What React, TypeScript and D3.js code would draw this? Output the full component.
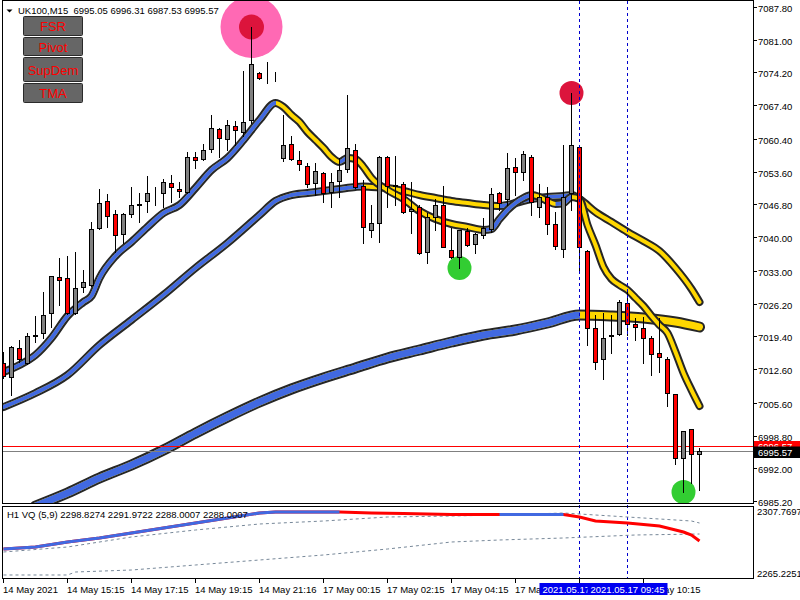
import * as d3 from 'd3'
import { useEffect, useRef } from 'react'

// ---- candles (UK100 M15), bar 0 = 14 May 13:15
const opens = [7013.87, 7010.96, 7016.98, 7013.87, 7019.47, 7020.10, 7024.25, 7031.73, 7031.52, 7024.25, 7029.65, 7030.06, 7041.90, 7047.51, 7044.81, 7040.66, 7044.81, 7046.68, 7047.51, 7049.30, 7049.17, 7051.25, 7050.00, 7049.38, 7056.65, 7056.23, 7058.31, 7062.46, 7060.39, 7063.09, 7061.84, 7064.33, 7074.09, 7072.64, 7072.85, 7056.44, 7059.35, 7056.03, 7054.78, 7051.25, 7053.33, 7049.38, 7051.66, 7054.16, 7058.10, 7050.63, 7041.49, 7042.94, 7056.65, 7050.63, 7051.04, 7045.43, 7046.26, 7036.92, 7044.19, 7046.68, 7037.33, 7035.88, 7041.28, 7038.58, 7040.45, 7041.69, 7049.17, 7047.93, 7054.57, 7053.53, 7056.65, 7046.26, 7048.34, 7042.73, 7037.54, 7049.17, 7058.72, 7037.13, 7021.13, 7014.70, 7019.47, 7019.89, 7026.33, 7021.97, 7021.13, 7019.06, 7015.94, 7014.70, 7007.43, 6994.14, 7000.16, 6995.05]
const highs = [7016.15, 7017.40, 7018.64, 7020.10, 7023.63, 7028.61, 7031.93, 7035.67, 7036.09, 7036.92, 7033.18, 7043.15, 7050.00, 7048.96, 7045.64, 7045.02, 7050.42, 7049.17, 7052.70, 7050.42, 7052.08, 7052.91, 7051.46, 7057.69, 7057.69, 7059.35, 7065.37, 7062.67, 7064.33, 7064.12, 7074.51, 7083.65, 7074.30, 7076.38, 7074.30, 7065.37, 7061.01, 7057.89, 7055.40, 7055.40, 7053.53, 7053.33, 7056.44, 7069.52, 7059.35, 7051.87, 7046.68, 7056.86, 7056.86, 7056.86, 7051.46, 7051.46, 7046.68, 7045.02, 7047.93, 7050.63, 7041.90, 7041.49, 7041.90, 7040.86, 7043.98, 7050.21, 7049.38, 7057.48, 7056.44, 7057.89, 7057.06, 7051.04, 7050.42, 7045.23, 7059.14, 7069.94, 7058.72, 7037.33, 7023.83, 7024.25, 7023.83, 7026.95, 7029.23, 7023.21, 7023.42, 7019.47, 7023.21, 7015.11, 7007.43, 6999.74, 7000.16, 6996.31]
const lows = [7010.75, 7007.22, 7014.08, 7013.66, 7018.23, 7019.06, 7021.34, 7025.91, 7024.04, 7024.04, 7028.61, 7029.86, 7041.69, 7042.11, 7036.92, 7038.79, 7044.19, 7043.15, 7045.23, 7046.68, 7046.26, 7047.30, 7048.34, 7049.17, 7054.36, 7056.03, 7057.69, 7056.65, 7058.10, 7059.14, 7061.01, 7063.71, 7072.85, 7072.02, 7072.43, 7055.82, 7056.03, 7053.95, 7050.42, 7048.76, 7047.30, 7046.26, 7048.34, 7053.53, 7050.21, 7038.79, 7040.03, 7039.00, 7046.26, 7046.68, 7045.02, 7040.86, 7036.50, 7034.63, 7041.49, 7037.96, 7035.67, 7033.60, 7038.16, 7036.71, 7039.83, 7041.07, 7045.64, 7046.68, 7048.76, 7051.87, 7044.60, 7044.19, 7040.66, 7037.54, 7035.88, 7045.64, 7032.77, 7017.60, 7012.62, 7010.54, 7015.94, 7019.68, 7019.68, 7018.64, 7013.87, 7011.38, 7012.00, 7004.94, 6992.89, 6987.07, 6988.94, 6987.53]
const closes = [7011.17, 7017.19, 7014.70, 7019.47, 7019.68, 7023.83, 7031.93, 7031.10, 7024.25, 7029.44, 7030.69, 7041.69, 7047.09, 7044.39, 7040.45, 7044.81, 7046.68, 7046.89, 7049.17, 7049.38, 7051.46, 7050.42, 7049.59, 7056.65, 7056.03, 7058.10, 7062.67, 7060.59, 7063.29, 7062.25, 7063.92, 7075.96, 7073.05, 7072.55, 7072.75, 7059.14, 7056.23, 7055.19, 7051.04, 7053.74, 7049.17, 7051.46, 7053.95, 7058.52, 7050.42, 7042.11, 7042.94, 7056.65, 7050.63, 7050.83, 7045.23, 7045.85, 7036.71, 7044.19, 7046.68, 7037.96, 7035.88, 7041.49, 7038.37, 7040.66, 7041.90, 7048.96, 7047.09, 7054.36, 7053.53, 7057.27, 7047.30, 7048.34, 7042.73, 7038.16, 7048.34, 7059.14, 7037.96, 7021.13, 7014.08, 7019.06, 7019.60, 7026.53, 7021.97, 7021.34, 7019.06, 7015.74, 7015.11, 7007.64, 6994.14, 6999.74, 6994.97, 6995.57]

// ---- TMA lines (bar index, price)
const fastBars = [0, 2, 4, 6, 8, 10, 11, 12, 14, 16, 18, 20, 22, 24, 26, 28, 30, 32, 34, 35, 36, 37, 38, 39, 40, 41, 42, 43, 44, 45, 46, 48, 50, 52, 54, 56, 58, 60, 61, 62, 63, 64, 65, 66, 67, 68, 69, 70, 71, 72, 73, 74, 75, 76, 77, 78, 79, 80, 81, 82, 83, 84, 85, 86, 87]
const fastVals = [7011.99, 7013.45, 7015.52, 7019.05, 7023.62, 7026.53, 7027.78, 7031.52, 7036.09, 7038.99, 7042.11, 7045.02, 7046.68, 7050.21, 7053.95, 7056.44, 7060.18, 7064.33, 7067.86, 7067.03, 7065.37, 7063.92, 7061.84, 7060.18, 7058.52, 7056.65, 7055.61, 7056.44, 7056.23, 7054.57, 7052.28, 7049.79, 7047.92, 7045.43, 7043.77, 7042.73, 7042.11, 7041.49, 7041.69, 7043.77, 7045.64, 7047.09, 7048.13, 7048.75, 7048.34, 7047.51, 7046.89, 7047.09, 7048.34, 7047.92, 7042.52, 7038.37, 7033.80, 7031.31, 7030.06, 7029.02, 7027.36, 7025.70, 7023.62, 7021.75, 7020.09, 7016.15, 7011.79, 7008.25, 7004.93]
const medBars = [0, 4, 8, 12, 16, 20, 24, 28, 32, 34, 36, 38, 40, 42, 44, 45, 46, 48, 50, 52, 54, 56, 58, 60, 62, 64, 66, 68, 70, 71, 72, 74, 76, 78, 80, 82, 84, 86, 87]
const medVals = [7004.72, 7007.63, 7011.37, 7017.60, 7022.79, 7027.99, 7033.59, 7038.79, 7044.60, 7047.51, 7048.75, 7049.17, 7049.59, 7050.00, 7050.42, 7050.52, 7050.42, 7050.21, 7049.59, 7048.75, 7048.13, 7047.51, 7047.09, 7046.68, 7046.47, 7047.09, 7047.92, 7048.34, 7048.55, 7048.75, 7047.92, 7045.22, 7043.15, 7041.07, 7039.20, 7037.12, 7033.59, 7029.23, 7026.53]
const slowBars = [4, 8, 12, 16, 20, 24, 28, 32, 36, 40, 44, 48, 52, 56, 60, 64, 68, 72, 76, 80, 84, 87]
const slowVals = [6984.16, 6986.86, 6989.98, 6992.68, 6995.79, 6999.32, 7002.65, 7005.76, 7008.46, 7010.75, 7012.82, 7014.90, 7016.56, 7018.22, 7019.68, 7020.72, 7022.17, 7023.83, 7023.62, 7023.21, 7022.38, 7021.34]

// ---- H1 VQ (5,9) sub window
const vqBars = [0, 4, 8, 12, 16, 20, 24, 28, 32, 34, 42, 46, 50, 56, 62, 70, 72, 74, 76, 78, 80, 82, 84, 85, 86, 87]
const vqVals = [2282.78, 2284.13, 2287.51, 2290.21, 2293.59, 2296.97, 2300.34, 2303.72, 2307.09, 2307.77, 2307.77, 2307.09, 2306.76, 2306.08, 2306.08, 2306.08, 2304.39, 2301.69, 2301.02, 2300.34, 2299.33, 2298.32, 2295.61, 2294.26, 2292.24, 2288.19]
const vqUpRanges = [[0, 42], [62, 70]]
const upperBars = [0, 8, 16, 24, 32, 40, 48, 56, 62, 70, 78, 86, 87]
const upperVals = [2280.76, 2284.13, 2290.89, 2295.61, 2299.67, 2301.69, 2304.39, 2305.07, 2305.74, 2307.09, 2304.39, 2301.69, 2300.34]
const lowerBars = [0, 8, 9, 16, 24, 32, 40, 48, 56, 62, 70, 79, 87]
const lowerVals = [2265.23, 2265.23, 2267.25, 2268.60, 2271.98, 2275.36, 2278.73, 2282.78, 2287.51, 2288.86, 2290.21, 2292.24, 2292.91]

// ---- axes
const priceTicks = [7087.8, 7081.0, 7074.2, 7067.4, 7060.4, 7053.6, 7046.8, 7040.0, 7033.0, 7026.2, 7019.4, 7012.6, 7005.6, 6998.8, 6992.0, 6985.2]
const timeTickBars = [0, 8, 16, 24, 32, 40, 48, 56, 64, 72, 80]
const timeTickLabels = ['14 May 2021', '14 May 15:15', '14 May 17:15', '14 May 19:15', '14 May 21:16', '17 May 00:15', '17 May 02:15', '17 May 04:15', '17 May 06:15', '17 May 08:15', '17 May 10:15']
const markerBars = [72, 78]
const markerLabels = ['2021.05.17 08:15', '2021.05.17 09:45']
const bid = 6995.57
const ask = 6996.57
const buttons = ['FSR', 'Pivot', 'SupDem', 'TMA']

const FONT = '"Liberation Sans", Arial, sans-serif'
const BLUE = '#4169e1'
const GOLD = '#ffd700'
const OUTLINE = '#262626'

const draw = (svgEl: SVGSVGElement) => {
  const svg = d3.select(svgEl)
  svg.selectAll('*').remove()
  const defs = svg.append('defs')

  const x = d3.scaleLinear().domain([0, 87]).range([3.5, 699.5])
  const y = d3.scaleLinear().domain([6985.2, 7087.8]).range([501, 7])
  const yv = d3.scaleLinear().domain([2265.2251, 2307.7697]).range([575, 512])

  svg.append('rect').attr('width', 800).attr('height', 600).attr('fill', '#fff')

  defs.append('clipPath').attr('id', 'main-clip')
    .append('rect').attr('x', 3).attr('y', 1).attr('width', 750).attr('height', 502)
  defs.append('clipPath').attr('id', 'sub-clip')
    .append('rect').attr('x', 3).attr('y', 507).attr('width', 750).attr('height', 71)

  const main = svg.append('g').attr('clip-path', 'url(#main-clip)')

  // colored (blue up / gold down) line with dark outline
  const drawMA = (bars: number[], vals: number[], outerW: number, innerW: number, id: string) => {
    const pts: [number, number][] = bars.map((b, i) => [x(b), y(vals[i])])
    const d = d3.line().curve(d3.curveMonotoneX)(pts)
    main.append('path').attr('d', d).attr('fill', 'none').attr('stroke', OUTLINE)
      .attr('stroke-width', outerW).attr('stroke-linecap', 'round').attr('stroke-linejoin', 'round')
    main.append('path').attr('d', d).attr('fill', 'none').attr('stroke', GOLD)
      .attr('stroke-width', innerW).attr('stroke-linecap', 'round').attr('stroke-linejoin', 'round')
    const clip = defs.append('clipPath').attr('id', id)
    for (let i = 0; i < pts.length - 1; i++) {
      if (vals[i + 1] > vals[i]) {
        const x0 = i === 0 ? pts[i][0] - 10 : pts[i][0]
        const x1 = i === pts.length - 2 ? pts[i + 1][0] + 10 : pts[i + 1][0] + 0.5
        clip.append('rect').attr('x', x0).attr('y', 0).attr('width', x1 - x0).attr('height', 600)
      }
    }
    main.append('g').attr('clip-path', `url(#${id})`)
      .append('path').attr('d', d).attr('fill', 'none').attr('stroke', BLUE)
      .attr('stroke-width', innerW).attr('stroke-linecap', 'round').attr('stroke-linejoin', 'round')
  }

  drawMA(slowBars, slowVals, 11, 7, 'slow-up')
  drawMA(medBars, medVals, 8, 4, 'med-up')
  drawMA(fastBars, fastVals, 8, 4, 'fast-up')

  // signal dots
  main.append('circle').attr('cx', x(31)).attr('cy', y(highs[31])).attr('r', 31).attr('fill', '#ff69b4')
  main.append('circle').attr('cx', x(31)).attr('cy', y(highs[31])).attr('r', 12.5).attr('fill', '#dc143c')
  main.append('circle').attr('cx', x(71)).attr('cy', y(highs[71])).attr('r', 12).attr('fill', '#dc143c')
  main.append('circle').attr('cx', x(57)).attr('cy', y(lows[57])).attr('r', 12).attr('fill', '#32cd32')
  main.append('circle').attr('cx', x(85)).attr('cy', y(lows[85])).attr('r', 12).attr('fill', '#32cd32')

  // bid / ask lines
  main.append('line').attr('x1', 3).attr('x2', 753).attr('y1', Math.round(y(ask)) + 0.5).attr('y2', Math.round(y(ask)) + 0.5).attr('stroke', '#ff0000')
  main.append('line').attr('x1', 3).attr('x2', 753).attr('y1', Math.round(y(bid)) + 0.5).attr('y2', Math.round(y(bid)) + 0.5).attr('stroke', '#808080')

  // vertical dashed markers across both windows
  markerBars.forEach(b => {
    svg.append('line').attr('x1', x(b)).attr('x2', x(b)).attr('y1', 1).attr('y2', 578)
      .attr('stroke', '#0000cd').attr('stroke-dasharray', '3,3')
  })

  // candles
  const cg = main.append('g')
  opens.forEach((o, i) => {
    const c = closes[i]
    const cx = x(i)
    cg.append('line').attr('x1', cx).attr('x2', cx)
      .attr('y1', Math.round(y(highs[i]))).attr('y2', Math.round(y(lows[i])) + 1).attr('stroke', '#000')
    const top = Math.round(y(Math.max(o, c))) + 0.5
    const bot = Math.round(y(Math.min(o, c))) + 0.5
    cg.append('rect').attr('x', cx - 2).attr('y', top).attr('width', 4).attr('height', Math.max(bot - top, 0))
      .attr('fill', c >= o ? '#808080' : '#ff0000').attr('stroke', '#000')
  })

  // header + buttons
  svg.append('path').attr('d', 'M6.5,9.5 L12.5,9.5 L9.5,12.5 Z').attr('fill', '#000')
  svg.append('text').attr('x', 18).attr('y', 14).attr('font-family', FONT).attr('font-size', 9.5)
    .attr('fill', '#000').attr('xml:space', 'preserve')
    .text('UK100,M15  6995.05 6996.31 6987.53 6995.57')
  const btnY = [16, 37, 57, 83]
  const btnH = [19, 18, 24, 19]
  buttons.forEach((b, i) => {
    svg.append('rect').attr('x', 23.5).attr('y', btnY[i] + 0.5).attr('width', 59).attr('height', btnH[i])
      .attr('fill', '#666666').attr('stroke', '#2a2a2a').attr('rx', 1)
    svg.append('text').attr('x', 53).attr('y', btnY[i] + btnH[i] / 2 + 5.5).attr('text-anchor', 'middle')
      .attr('font-family', FONT).attr('font-size', 13).attr('fill', '#ff0000').text(b)
  })

  // sub window: VQ
  const sub = svg.append('g').attr('clip-path', 'url(#sub-clip)')
  const band = (bars: number[], vals: number[]) => {
    const pts: [number, number][] = bars.map((b, i) => [x(b), yv(vals[i])])
    sub.append('path').attr('d', d3.line()(pts)).attr('fill', 'none').attr('stroke', '#778899')
      .attr('stroke-dasharray', '3,3')
  }
  band(upperBars, upperVals)
  band(lowerBars, lowerVals)
  const vqPts: [number, number][] = vqBars.map((b, i) => [x(b), yv(vqVals[i])])
  const vqPath = d3.line()(vqPts)
  sub.append('path').attr('d', vqPath).attr('fill', 'none').attr('stroke', '#ff0000').attr('stroke-width', 3)
  const vqClip = defs.append('clipPath').attr('id', 'vq-up')
  vqUpRanges.forEach(([a, b]) => {
    const x0 = a === 0 ? 0 : x(a)
    vqClip.append('rect').attr('x', x0).attr('y', 500).attr('width', x(b) - x0).attr('height', 100)
  })
  sub.append('g').attr('clip-path', 'url(#vq-up)')
    .append('path').attr('d', vqPath).attr('fill', 'none').attr('stroke', BLUE).attr('stroke-width', 3)
  svg.append('text').attr('x', 7).attr('y', 518).attr('font-family', FONT).attr('font-size', 9.5)
    .attr('fill', '#000').text('H1 VQ (5,9) 2298.8274 2291.9722 2288.0007 2288.0007')

  // frames
  svg.append('rect').attr('x', 2.5).attr('y', 0.5).attr('width', 751).attr('height', 503)
    .attr('fill', 'none').attr('stroke', '#000')
  svg.append('rect').attr('x', 2.5).attr('y', 506.5).attr('width', 751).attr('height', 72)
    .attr('fill', 'none').attr('stroke', '#000')

  // price axis
  priceTicks.forEach(p => {
    const ty = Math.round(y(p)) + 0.5
    svg.append('line').attr('x1', 753).attr('x2', 757).attr('y1', ty).attr('y2', ty).attr('stroke', '#000')
    svg.append('text').attr('x', 758).attr('y', ty + 4).attr('font-family', FONT).attr('font-size', 9.5)
      .attr('fill', '#000').text(p.toFixed(2))
  })
  svg.append('text').attr('x', 757).attr('y', 515).attr('font-family', FONT).attr('font-size', 9.5)
    .attr('fill', '#000').text('2307.7697')
  svg.append('text').attr('x', 757).attr('y', 577).attr('font-family', FONT).attr('font-size', 9.5)
    .attr('fill', '#000').text('2265.2251')

  // bid / ask labels
  svg.append('rect').attr('x', 754).attr('y', Math.round(y(ask)) - 5).attr('width', 46).attr('height', 11).attr('fill', '#ff0000')
  svg.append('text').attr('x', 758).attr('y', Math.round(y(ask)) + 4).attr('font-family', FONT).attr('font-size', 9.5)
    .attr('fill', '#fff').text(ask.toFixed(2))
  svg.append('rect').attr('x', 754).attr('y', Math.round(y(bid)) - 4.5).attr('width', 46).attr('height', 11.5).attr('fill', '#000')
  svg.append('text').attr('x', 758).attr('y', Math.round(y(bid)) + 4.5).attr('font-family', FONT).attr('font-size', 9.5)
    .attr('fill', '#fff').text(bid.toFixed(2))

  // time axis
  timeTickBars.forEach((b, i) => {
    svg.append('line').attr('x1', x(b)).attr('x2', x(b)).attr('y1', 578).attr('y2', 583).attr('stroke', '#000')
    svg.append('text').attr('x', x(b) - 0.5).attr('y', 593).attr('font-family', FONT).attr('font-size', 9.5)
      .attr('fill', '#000').text(timeTickLabels[i])
  })
  markerBars.forEach((b, i) => {
    svg.append('rect').attr('x', x(b) - 40).attr('y', 583).attr('width', 80).attr('height', 12).attr('fill', '#0000f0')
    svg.append('text').attr('x', x(b)).attr('y', 593).attr('text-anchor', 'middle').attr('font-family', FONT)
      .attr('font-size', 9.5).attr('fill', '#fff').text(markerLabels[i])
  })
}

export default function App() {
  const ref = useRef<SVGSVGElement>(null)
  useEffect(() => {
    if (ref.current) draw(ref.current)
  }, [])
  return (
    <svg ref={ref} width={800} height={600}
      style={{ position: 'absolute', left: 0, top: 0, display: 'block', background: '#fff' }} />
  )
}
